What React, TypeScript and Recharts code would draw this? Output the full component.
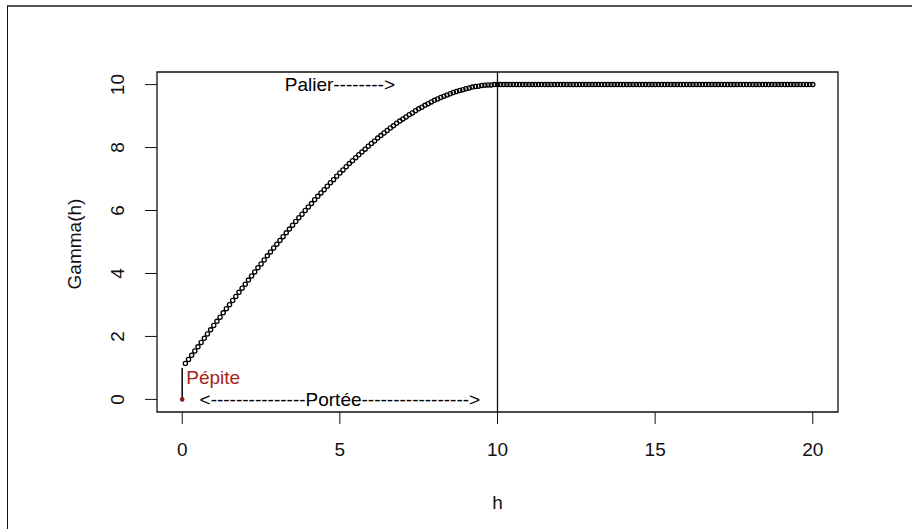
import React from 'react';
import { ScatterChart, Scatter, XAxis, YAxis, ReferenceLine, ReferenceArea, ReferenceDot } from 'recharts';

const FONT = '"Liberation Sans", Arial, Helvetica, sans-serif';

const gammaRise = [
  1.14, 1.27, 1.40, 1.54, 1.67, 1.81, 1.94, 2.08, 2.21, 2.35,
  2.48, 2.61, 2.75, 2.88, 3.01, 3.14, 3.27, 3.40, 3.53, 3.66,
  3.79, 3.92, 4.05, 4.18, 4.30, 4.43, 4.56, 4.68, 4.81, 4.93,
  5.05, 5.17, 5.29, 5.41, 5.53, 5.65, 5.77, 5.88, 6.00, 6.11,
  6.22, 6.34, 6.45, 6.56, 6.66, 6.77, 6.88, 6.98, 7.09, 7.19,
  7.29, 7.39, 7.49, 7.58, 7.68, 7.77, 7.86, 7.95, 8.04, 8.13,
  8.21, 8.30, 8.38, 8.46, 8.54, 8.62, 8.69, 8.77, 8.84, 8.91,
  8.97, 9.04, 9.10, 9.17, 9.23, 9.28, 9.34, 9.39, 9.45, 9.50,
  9.54, 9.59, 9.63, 9.67, 9.71, 9.75, 9.78, 9.81, 9.84, 9.87,
  9.89, 9.92, 9.94, 9.95, 9.97, 9.98, 9.99, 9.99, 10.0, 10.0,
];
const gammaFlat = [
  10, 10, 10, 10, 10, 10, 10, 10, 10, 10, 10, 10, 10, 10, 10, 10, 10, 10, 10, 10,
  10, 10, 10, 10, 10, 10, 10, 10, 10, 10, 10, 10, 10, 10, 10, 10, 10, 10, 10, 10,
  10, 10, 10, 10, 10, 10, 10, 10, 10, 10, 10, 10, 10, 10, 10, 10, 10, 10, 10, 10,
  10, 10, 10, 10, 10, 10, 10, 10, 10, 10, 10, 10, 10, 10, 10, 10, 10, 10, 10, 10,
  10, 10, 10, 10, 10, 10, 10, 10, 10, 10, 10, 10, 10, 10, 10, 10, 10, 10, 10, 10,
];
const gammaValues = [...gammaRise, ...gammaFlat];
const curve = gammaValues.map((g, i) => ({ h: (i + 1) / 10, g }));

const xTicks = [0, 5, 10, 15, 20];
const yTicks = [0, 2, 4, 6, 8, 10];
const range = 10;
const nugget = 1;

const notes = [
  { h: 5, g: 10, text: 'Palier-------->', anchor: 'middle', color: '#000', dx: 0 },
  { h: 0, g: 0.7, text: 'Pépite', anchor: 'start', color: '#a8231c', dx: 4 },
  { h: 5, g: 0, text: '<---------------Portée----------------->', anchor: 'middle', color: '#000', dx: 0 },
];

const PointShape = ({ cx, cy }: any) => (
  <circle cx={cx} cy={cy} r={2.1} fill="none" stroke="#000" strokeWidth={1.3} />
);

const NoteShape = ({ cx, cy, payload }: any) => (
  <text x={cx + payload.dx} y={cy} dy="0.36em" textAnchor={payload.anchor} fill={payload.color}
    fontSize={19} fontFamily={FONT}>
    {payload.text}
  </text>
);

const XTick = ({ x, y, payload }: any) => (
  <text x={x} y={y + 23} dy="0.36em" textAnchor="middle" fontSize={19} fontFamily={FONT} fill="#111">
    {payload.value}
  </text>
);

const YTick = ({ x, y, payload }: any) => (
  <text x={x - 26} y={y} dy="0.36em" textAnchor="middle" fontSize={19} fontFamily={FONT} fill="#111"
    transform={`rotate(-90, ${x - 26}, ${y})`}>
    {payload.value}
  </text>
);

export default function App() {
  return (
    <div style={{ position: 'absolute', left: 0, top: 0, width: 912, height: 529, background: '#fff' }}>
      <div style={{ position: 'absolute', left: 7, top: 5, right: 0, bottom: 0,
        borderTop: '2px solid #555', borderLeft: '1.5px solid #111' }} />
      <div style={{ position: 'absolute', left: 0, top: 0 }}>
        <ScatterChart width={912} height={529} margin={{ top: 72, right: 74, bottom: 0, left: 0 }}>
          <XAxis dataKey="h" type="number" domain={[-0.8, 20.8]} ticks={xTicks} allowDataOverflow
            axisLine={false} tickSize={12} tickLine={{ stroke: '#111', strokeWidth: 1 }}
            tick={<XTick />} height={117}
            label={() => (
              <text x={497.5} y={502} dy="0.36em" textAnchor="middle" fontSize={19} fontFamily={FONT} fill="#111">h</text>
            )} />
          <YAxis dataKey="g" type="number" domain={[-0.4, 10.4]} ticks={yTicks} allowDataOverflow
            axisLine={false} tickSize={12} tickLine={{ stroke: '#111', strokeWidth: 1 }}
            tick={<YTick />} width={157}
            label={() => (
              <text x={74} y={244} dy="0.36em" textAnchor="middle" fontSize={19} fontFamily={FONT} fill="#111"
                transform="rotate(-90, 74, 244)">Gamma(h)</text>
            )} />
          <ReferenceArea x1={-0.8} x2={20.8} y1={-0.4} y2={10.4} fill="none" stroke="#111" strokeWidth={1.3}
            ifOverflow="visible" />
          <ReferenceLine x={range} stroke="#111" strokeWidth={1.3} />
          <ReferenceLine segment={[{ x: 0, y: 0 }, { x: 0, y: nugget }]} stroke="#111" strokeWidth={1.6} />
          <Scatter data={curve} shape={<PointShape />} isAnimationActive={false} />
          <ReferenceDot x={0} y={0} r={2.3} fill="#8b1a1a" stroke="none" />
          <Scatter data={notes} shape={<NoteShape />} isAnimationActive={false} />
        </ScatterChart>
      </div>
    </div>
  );
}
